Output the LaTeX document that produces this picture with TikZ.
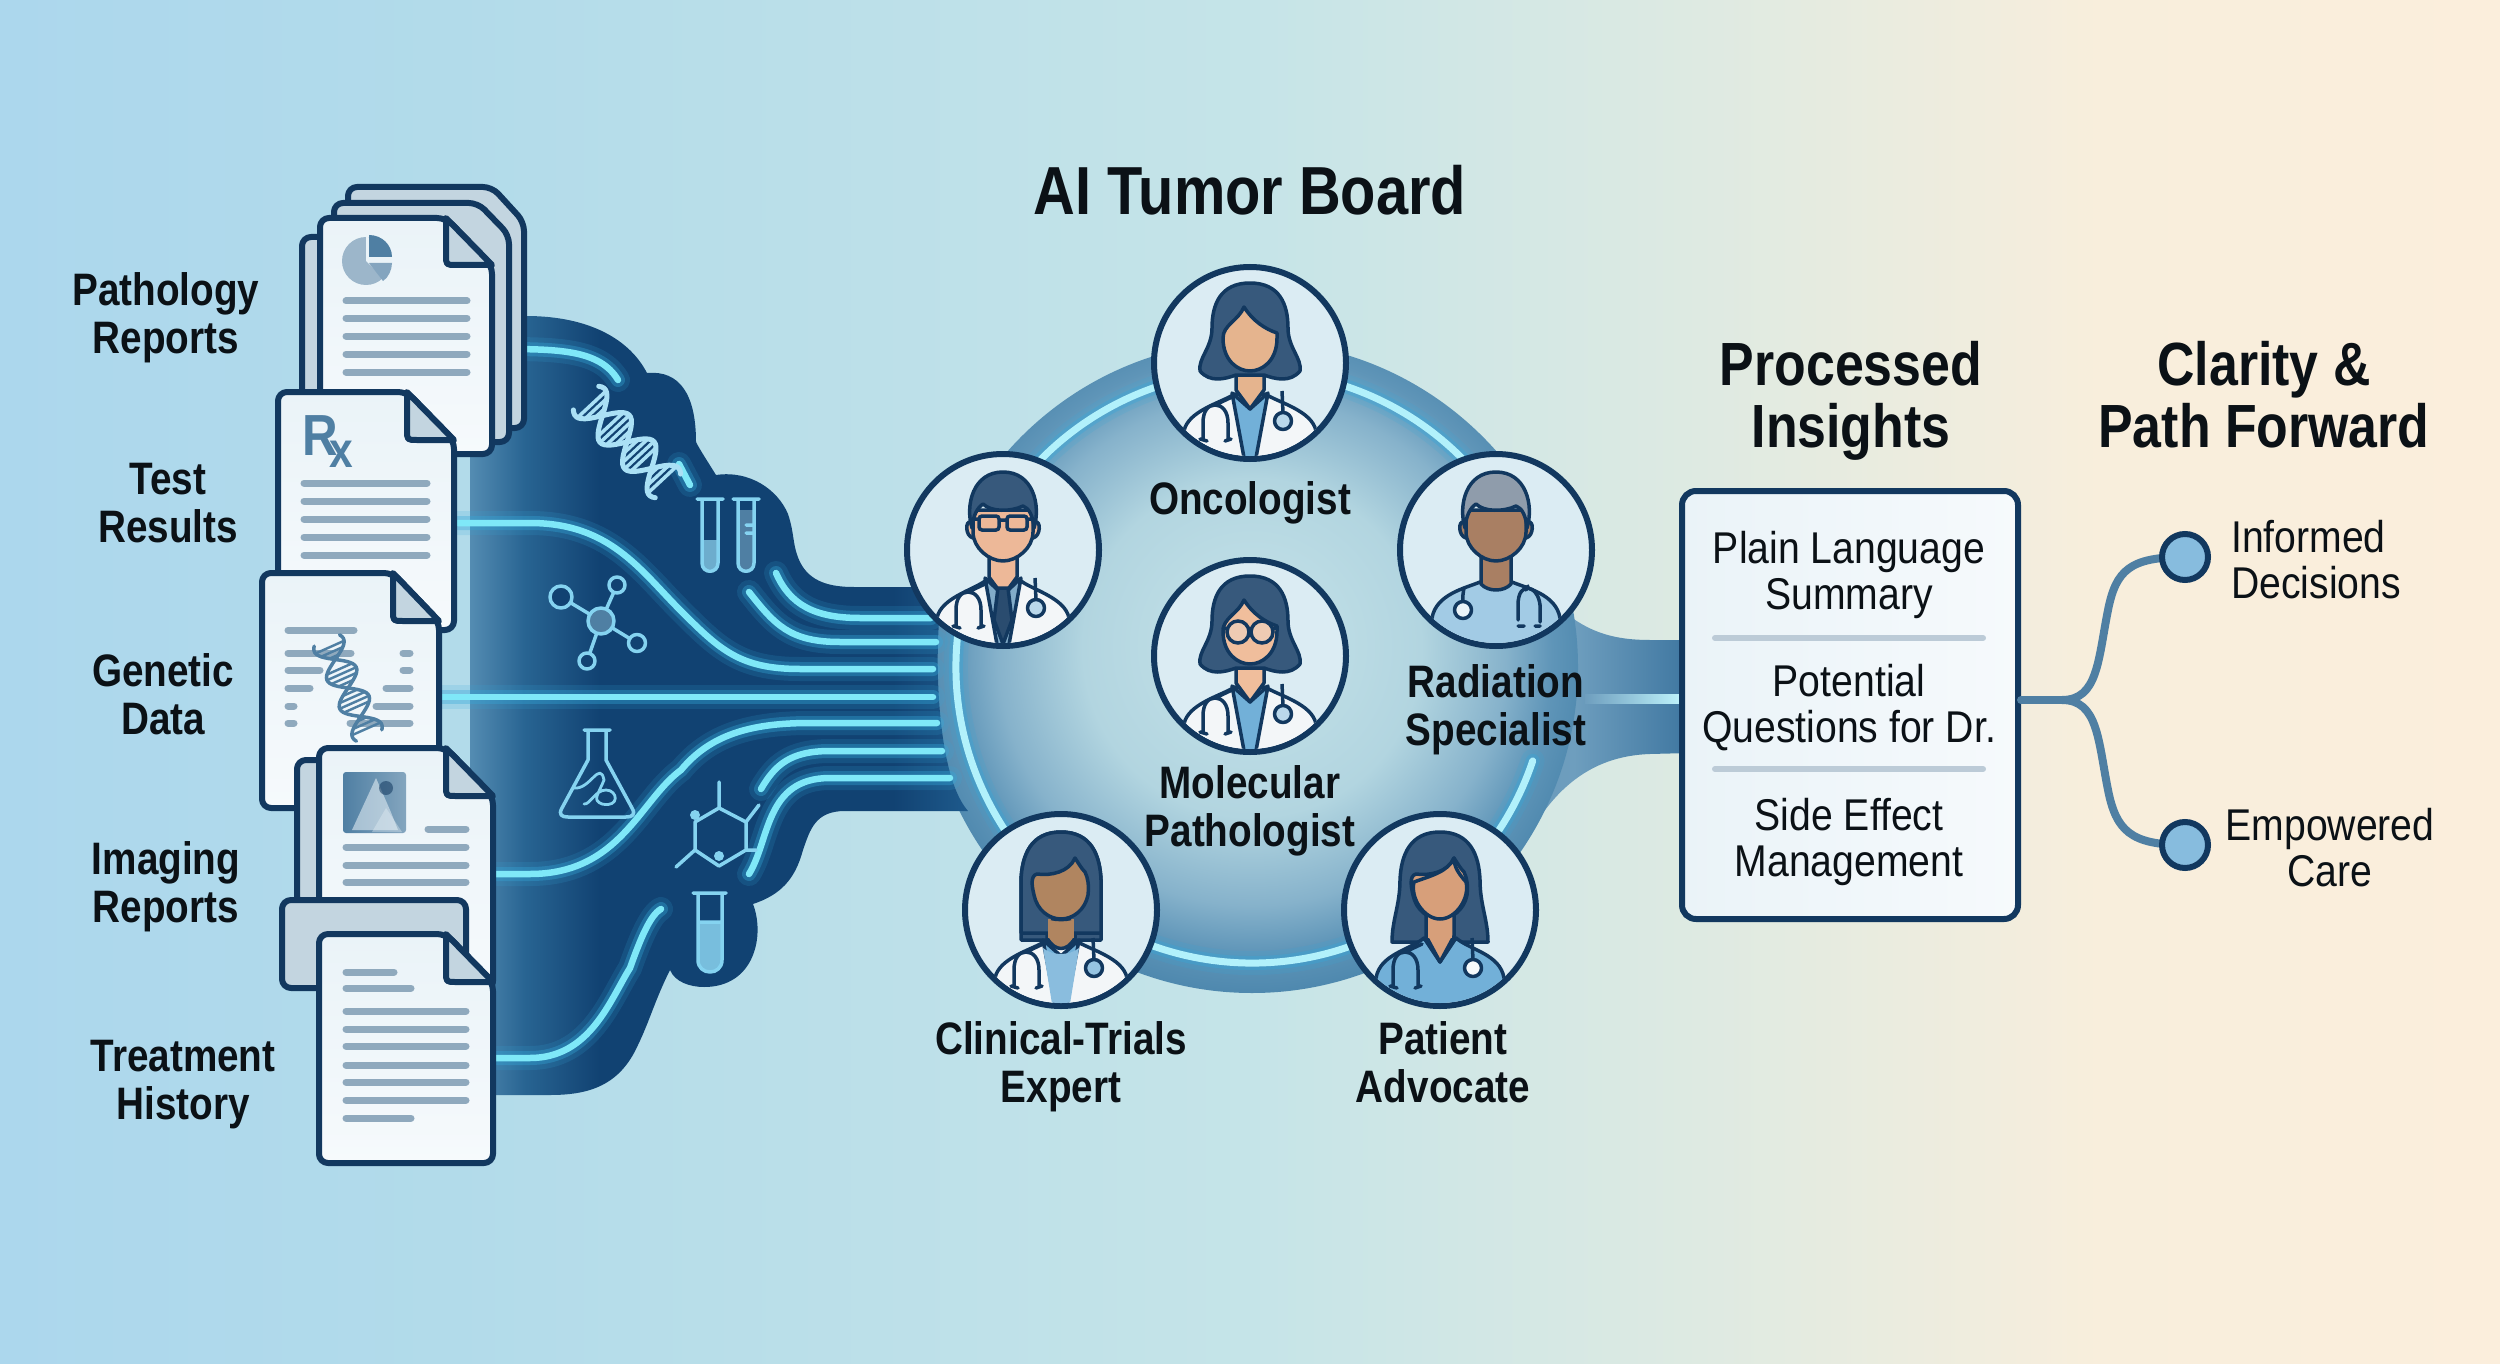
\documentclass[tikz,border=0pt]{standalone}
\usepackage{fontspec}
\setmainfont{Liberation Sans}[FakeStretch=0.88]
\newfontfamily\heavyfont{Liberation Sans Bold}[FakeStretch=0.85]
\usetikzlibrary{calc}
\definecolor{navy}{HTML}{12385F}
\definecolor{ink}{HTML}{0B1116}
\definecolor{pageA}{HTML}{EAF3F8}
\definecolor{pageB}{HTML}{F6FAFC}
\definecolor{sheet}{HTML}{C3D5E0}
\definecolor{rule}{HTML}{8FA9BD}
\definecolor{ico}{HTML}{4F7FA3}
\definecolor{cyanA}{HTML}{7FE8F8}
\definecolor{cyanB}{HTML}{35A8DA}
\definecolor{iconc}{HTML}{85D3F0}
\definecolor{hairc}{HTML}{37597C}
\definecolor{coat}{HTML}{F3F6F8}
\definecolor{scrub}{HTML}{72B0D8}
\definecolor{tailmid}{HTML}{6E9EBE}
\definecolor{faceback}{HTML}{DBECF3}
\definecolor{skinOnc}{HTML}{E5B48E}
\definecolor{skinSur}{HTML}{EDB898}
\definecolor{skinMol}{HTML}{F0BE9C}
\definecolor{skinRad}{HTML}{A97F63}
\definecolor{skinTri}{HTML}{B08560}
\definecolor{skinPat}{HTML}{D79F7A}
\definecolor{grayhair}{HTML}{8F9CAB}
\definecolor{bgA}{HTML}{ACD7ED}
\definecolor{bgB}{HTML}{B2DBEA}
\definecolor{bgC}{HTML}{C5E4E8}
\definecolor{bgD}{HTML}{DEEAE2}
\definecolor{bgE}{HTML}{F8EEDC}
\definecolor{bgF}{HTML}{FBEEDC}
\definecolor{blobA}{HTML}{548CB2}
\definecolor{blobB}{HTML}{286492}
\definecolor{blobC}{HTML}{114272}
\definecolor{blobD}{HTML}{1E5A8C}
\definecolor{tailA}{HTML}{5A8CAF}
\definecolor{tailB}{HTML}{6E9EBE}
\definecolor{tailC}{HTML}{3E76A0}
\definecolor{discA}{HTML}{C6E3E9}
\definecolor{discB}{HTML}{B2D5E0}
\definecolor{discC}{HTML}{86B2CB}
\definecolor{discD}{HTML}{5F95B8}
\definecolor{discE}{HTML}{4E88AE}
% Axial shadings span the shape between 25bp and 75bp; radial ones reach its edge at 25bp
\pgfdeclarehorizontalshading{bgshade}{100bp}{
 color(0bp)=(bgA); color(25bp)=(bgA); color(34bp)=(bgB); color(50bp)=(bgC); color(59bp)=(bgD); color(67bp)=(bgE); color(75bp)=(bgF); color(100bp)=(bgF)}
\pgfdeclarehorizontalshading{blobshade}{100bp}{
 color(0bp)=(blobA); color(25bp)=(blobA); color(30.5bp)=(blobB); color(38bp)=(blobC); color(67.5bp)=(blobC); color(75bp)=(blobD); color(100bp)=(blobD)}
\pgfdeclarehorizontalshading{tailshade}{100bp}{
 color(0bp)=(tailA); color(25bp)=(tailA); color(55bp)=(tailB); color(75bp)=(tailC); color(100bp)=(tailC)}
\pgfdeclareradialshading{discshade}{\pgfpoint{0bp}{2bp}}{
 color(0bp)=(discA); color(13bp)=(discB); color(19.5bp)=(discC); color(23bp)=(discD); color(26bp)=(discE); color(50bp)=(discE)}
\tikzset{
 label text/.style={font=\fontsize{45.5}{48}\heavyfont,text=ink,align=center,inner sep=0pt},
 title text/.style={font=\fontsize{61}{62}\heavyfont,text=ink,align=center,inner sep=0pt},
 main title/.style={font=\fontsize{68}{70}\heavyfont,text=ink,align=center,inner sep=0pt},
 plain text/.style={font=\fontsize{44.5}{46}\selectfont,text=ink,align=center,inner sep=0pt},
 docfill/.style={draw=navy,line width=6pt,rounded corners=9pt,top color=pageA,bottom color=pageB,line join=round},
 sheetfill/.style={draw=navy,line width=6pt,rounded corners=9pt,fill=sheet,line join=round},
 foldfill/.style={draw=navy,line width=6pt,fill=sheet,line join=round},
 textrule/.style={line width=7pt,draw=rule,line cap=round},
 glowA/.style={line width=24pt,draw=cyanB,opacity=.16,line cap=round},
 glowB/.style={line width=14pt,draw=cyanB,opacity=.35,line cap=round},
 glowC/.style={line width=6.5pt,draw=cyanA,line cap=round},
 iconline/.style={line width=3.5pt,draw=iconc,line cap=round,line join=round},
 outlineb/.style={draw=navy,line width=3.5pt,line join=round},
 portrait/.style={circle,draw=navy,line width=6pt,fill=faceback,minimum size=192pt,inner sep=0pt},
 endpoint/.style={circle,draw=navy,line width=6pt,fill=scrub!85!white,minimum size=46pt,inner sep=0pt},
 branch/.style={draw=ico,line width=8pt,line cap=round},
}
% One sheet with a folded corner: left, top, right, bottom, fold x, fold y
\newcommand{\docsheet}[6]{%
 \path[docfill] (#1,#2) -- (#5,#2) -- (#3,#6) -- (#3,#4) -- (#1,#4) -- cycle;
 \draw[foldfill] (#5,#2) -- ($(#5,#6)+(0,-10)$) .. controls (#5,#6) and (#5,#6) .. ($(#5,#6)+(10,0)$) -- (#3,#6) -- cycle;
}
\newcommand{\backsheet}[6]{%
 \path[sheetfill] (#1,#2) -- (#5,#2) -- (#3,#6) -- (#3,#4) -- (#1,#4) -- cycle;
}
\newcommand{\glowing}[1]{\draw[glowA] #1; \draw[glowB] #1; \draw[glowC] #1;}
% Double helix: centre x, y, angle, half length, amplitude, colour, width
\newcommand{\helix}[7]{%
 \begin{scope}[shift={(#1,#2)},rotate=#3]
  \draw[#6,line width=#7pt,line cap=round] plot[domain=-#4:#4,samples=50,smooth] (\x,{#5*sin(\x/#4*300)});
  \draw[#6,line width=#7pt,line cap=round] plot[domain=-#4:#4,samples=50,smooth] (\x,{-#5*sin(\x/#4*300)});
  \foreach \t in {-.86,-.76,-.66,-.2,-.3,-.4,-.1,.1,.2,.3,.4,.66,.76,.86}{
   \pgfmathsetmacro{\px}{\t*#4}
   \pgfmathsetmacro{\py}{#5*sin(\t*300)}
   \draw[#6,line width=#7*.7pt] (\px,\py) -- (\px,-\py);
  }
 \end{scope}}
% Bust pieces, drawn around the centre of a portrait
\newcommand{\clipface}{\clip (0,0) circle[radius=93pt];}
\newcommand{\neck}[1]{\path[fill=#1,outlineb] (-14,0) -- (-14,27) -- (0,46) -- (14,27) -- (14,0) -- cycle;}
\newcommand{\whitecoat}[1]{%
 \path[fill=coat,outlineb] (-15,31) .. controls (-30,40) and (-62,48) .. (-66,68) -- (-72,110) -- (72,110) -- (66,68) .. controls (62,48) and (30,40) .. (15,31) -- cycle;
 \path[fill=#1,outlineb] (-18,30) -- (0,46) -- (18,30) -- (5,100) -- (-5,100) -- cycle;}
\newcommand{\lefttube}{\draw[navy,line width=3.5pt,line cap=round,line join=round] (-50,76) -- (-43,78) (-25,78) -- (-19,76) (-47,76) -- (-47,60) .. controls (-47,48) and (-42,42) .. (-35,42) .. controls (-28,42) and (-22,48) .. (-22,60) -- (-22,76) (-35,42) -- (-18,34);}
\newcommand{\chestpiece}[1]{\draw[navy,line width=3.5pt] (32,28) -- (33,50); \path[fill=#1,outlineb] (33,58) circle[radius=8.5pt];}
\newcommand{\femaleshort}[1]{%
 \path[fill=hairc,outlineb] (0,-80) .. controls (-30,-80) and (-38,-58) .. (-38,-35) .. controls (-38,-15) and (-52,-5) .. (-50,8) .. controls (-40,20) and (-25,16) .. (-14,12) -- (14,12) .. controls (25,16) and (40,20) .. (50,8) .. controls (52,-5) and (38,-15) .. (38,-35) .. controls (38,-58) and (30,-80) .. (0,-80) -- cycle;
 \path[fill=#1,outlineb] (-6,-56) .. controls (-12,-42) and (-27,-38) .. (-27,-25) .. controls (-27,-2) and (-12,8) .. (0,8) .. controls (12,8) and (27,-2) .. (27,-25) -- (27,-30) .. controls (15,-34) and (3,-42) .. (-6,-56) -- cycle;}
\newcommand{\femalelong}[3]{%
 \path[fill=hairc,outlineb] (0,-78) .. controls (-30,-78) and (-39,-55) .. (-40,-30) .. controls (-40,-5) and (-#2,10) .. (-#2,#3) -- (#2,#3) .. controls (#2,10) and (40,-5) .. (40,-30) .. controls (39,-55) and (30,-78) .. (0,-78) -- cycle;
 \path[fill=#1,outlineb] (14,-52) .. controls (8,-38) and (-10,-34) .. (-24,-36) .. controls (-32,-34) and (-28,-20) .. (-27,-15) .. controls (-24,0) and (-12,9) .. (0,9) .. controls (12,9) and (24,0) .. (27,-15) .. controls (28,-25) and (27,-32) .. (24,-38) .. controls (20,-42) and (18,-46) .. (14,-52) -- cycle;}
\newcommand{\malehead}[2]{%
 \path[fill=#1,outlineb] (-32,-28) .. controls (-38,-30) and (-38,-14) .. (-30,-12) -- (30,-12) .. controls (38,-14) and (38,-30) .. (32,-28) -- cycle;
 \path[fill=#1,outlineb] (-30,-40) -- (-30,-18) .. controls (-30,-2) and (-14,11) .. (0,11) .. controls (14,11) and (30,-2) .. (30,-18) -- (30,-40) -- cycle;
 \path[fill=#2,outlineb] (-31,-22) .. controls (-38,-45) and (-30,-78) .. (0,-78) .. controls (30,-78) and (38,-45) .. (31,-22) .. controls (30,-34) and (26,-42) .. (20,-44) .. controls (8,-38) and (-12,-38) .. (-20,-46) .. controls (-26,-42) and (-30,-34) .. (-31,-22) -- cycle;}
\begin{document}
\begin{tikzpicture}[x=1pt,y=-1pt]
\useasboundingbox (0,0) rectangle (2500,1364);
\shade[shading=bgshade] (0,0) rectangle (2500,1364);

% Board disc and its outlet to the results panel
\shade[shading=tailshade] (1540,590) .. controls (1575,625) and (1600,640) .. (1650,640) -- (1690,640) -- (1690,753) -- (1650,754) .. controls (1590,756) and (1545,790) .. (1512,870) -- (1400,720) -- cycle;
\shade[shading=discshade] (1252,667) circle[radius=326pt];
\shade[left color=tailmid,right color=cyanA!50!white] (1585,694) rectangle (1682,703);

% Data stream from the records into the disc
\shade[shading=blobshade] (470,316) -- (526,316) .. controls (590,316) and (630,340) .. (647,373)
 .. controls (680,370) and (696,395) .. (696,442)
 .. controls (700,450) and (708,462) .. (716,475)
 .. controls (750,470) and (778,490) .. (788,514)
 .. controls (795,535) and (792,545) .. (800,562)
 .. controls (810,582) and (830,587) .. (854,587)
 -- (944,587)
 .. controls (934,620) and (932,770) .. (968,811)
 -- (845,811)
 .. controls (815,811) and (810,830) .. (803,850)
 .. controls (795,880) and (780,895) .. (753,904)
 .. controls (765,935) and (755,987) .. (704,987)
 .. controls (690,987) and (675,982) .. (670,970)
 .. controls (655,1000) and (650,1020) .. (638,1045)
 .. controls (620,1085) and (590,1095) .. (550,1095)
 -- (470,1095) -- cycle;

% Glowing channels
\glowing{(500,349) .. controls (560,349) and (600,350) .. (618,380)}
\glowing{(679,464) -- (690,485)}
\glowing{(458,523) -- (530,523) .. controls (610,523) and (640,570) .. (681,611) .. controls (720,650) and (740,669) .. (800,669) -- (933,669)}
\glowing{(776,573) .. controls (790,605) and (815,618) .. (860,618) -- (931,618)}
\glowing{(749,592) .. controls (775,625) and (790,642) .. (840,642) -- (936,642)}
\glowing{(439,697) -- (933,697)}
\glowing{(493,874) -- (530,874) .. controls (620,874) and (640,800) .. (681,770) .. controls (710,735) and (750,723) .. (810,723) -- (937,723)}
\glowing{(761,789) .. controls (775,765) and (790,751) .. (830,751) -- (942,751)}
\glowing{(749,874) .. controls (770,840) and (765,778) .. (830,778) -- (950,778)}
\glowing{(495,1058) -- (530,1058) .. controls (590,1058) and (610,1000) .. (630,968) .. controls (640,940) and (650,915) .. (661,909)}

% Ring inside the disc
\draw[glowA] ([shift={(25:296pt)}]1252,667) arc[start angle=25,end angle=341.5,radius=296pt];
\draw[glowB] ([shift={(25:296pt)}]1252,667) arc[start angle=25,end angle=341.5,radius=296pt];
\draw[line width=7pt,draw=cyanA!60!white,line cap=round] ([shift={(25:296pt)}]1252,667) arc[start angle=25,end angle=341.5,radius=296pt];

% Icons floating in the stream
\helix{627}{442}{-47}{60}{20}{iconc!70!white}{5}
\begin{scope}
 \path[fill=iconc!55!ico] (702,540) -- (718,540) -- (718,563) .. controls (718,572) and (702,572) .. (702,563) -- cycle;
 \draw[iconline] (697,499) -- (723,499) (702,499) -- (702,563) .. controls (702,574) and (718,574) .. (718,563) -- (718,499);
 \path[fill=ico] (738,510) -- (754,510) -- (754,563) .. controls (754,572) and (738,572) .. (738,563) -- cycle;
 \draw[iconline] (733,499) -- (759,499) (738,499) -- (738,563) .. controls (738,574) and (754,574) .. (754,563) -- (754,499) (746,525) -- (754,525) (746,533) -- (754,533);
\end{scope}
\begin{scope}
 \draw[iconline] (601,621) -- (561,597) (601,621) -- (617,585) (601,621) -- (637,643) (601,621) -- (587,661);
 \path[fill=ico,iconline] (601,621) circle[radius=13pt];
 \path[fill=blobC,iconline] (561,597) circle[radius=11pt] (617,585) circle[radius=8pt] (637,643) circle[radius=8.5pt] (587,661) circle[radius=8pt];
\end{scope}
\begin{scope}
 \draw[iconline] (584,730) -- (610,730) (588,730) -- (588,760) -- (562,808) .. controls (558,815) and (562,817) .. (568,817) -- (626,817) .. controls (632,817) and (636,815) .. (632,808) -- (606,760) -- (606,730);
 \draw[iconline,line width=2.8pt] (574,788) .. controls (590,790) and (600,760) .. (604,780) .. controls (598,795) and (592,800) .. (602,804) .. controls (620,808) and (618,790) .. (606,790) .. controls (595,790) and (590,805) .. (584,804);
\end{scope}
\begin{scope}
 \draw[iconline] (719,808) -- (746,822) -- (746,850) -- (719,866) -- (695,850) -- (695,822) -- cycle;
 \draw[iconline] (719,808) -- (719,782) (746,822) -- (759,805) (746,850) -- (756,850) (695,850) -- (676,867);
 \path[fill=iconc] (695,815) circle[radius=5pt] (719,856) circle[radius=5pt];
\end{scope}
\begin{scope}
 \path[fill=iconc!75!ico] (698,922) -- (722,922) -- (722,960) .. controls (722,974) and (698,974) .. (698,960) -- cycle;
 \draw[iconline] (693,893) -- (726,893) (698,893) -- (698,960) .. controls (698,976) and (722,976) .. (722,960) -- (722,893) (698,922) -- (722,922);
\end{scope}

% Record stacks
\path[sheetfill] (302,237) rectangle (340,420);
\backsheet{348}{187}{524}{428}{492}{222}
\backsheet{334}{203}{509}{442}{478}{235}
\docsheet{320}{218}{492}{454}{446}{265}
\foreach \yy in {301,318,336,354,372}{\draw[textrule] (346,\yy) -- (467,\yy);}
\path[fill=ico!55!white!85!rule] (366,261) circle[radius=24pt];
\path[fill=pageA] (366,261) -- (366,237) arc[start angle=90,end angle=-40,radius=26pt] -- cycle;
\path[fill=ico] (369,257) -- (369,235) .. controls (382,235) and (392,245) .. (392,257) -- cycle;
\path[fill=ico!70!white] (369,263) -- (392,263) .. controls (392,270) and (388,278) .. (383,281) -- cycle;

\docsheet{278}{392}{454}{630}{407}{440}
\foreach \yy in {483,501,519,537,555}{\draw[textrule] (304,\yy) -- (427,\yy);}
\node[text=ico,font=\fontsize{58}{58}\heavyfont,inner sep=0pt] (rxmark) at (328,442) {R\kern-9pt\raisebox{-12pt}{\fontsize{50}{50}\selectfont x}};

\docsheet{262}{573}{439}{808}{393}{621}
\draw[textrule] (288,630) -- (354,630) (288,653) -- (351,653) (403,653) -- (410,653) (288,670) -- (320,670) (403,670) -- (410,670)
 (288,688) -- (310,688) (386,688) -- (410,688) (288,706) -- (294,706) (376,706) -- (410,706) (288,723) -- (294,723) (350,723) -- (410,723);
\helix{348}{688}{-66}{52}{16}{ico}{3.5}

\path[sheetfill] (297,760) rectangle (350,905);
\docsheet{319}{748}{493}{990}{446}{796}
\shade[left color=ico,right color=ico!70!white,rounded corners=3pt] (343,772) rectangle (406,833);
\path[fill=pageA,opacity=.55] (352,830) -- (376,778) -- (390,810) -- (398,830) -- cycle;
\path[fill=pageA,opacity=.35] (372,832) -- (386,808) -- (402,832) -- cycle;
\path[fill=navy,opacity=.55] (386,788) circle[radius=7pt];
\draw[textrule] (428,829) -- (466,829);
\foreach \yy in {847,865,882}{\draw[textrule] (346,\yy) -- (466,\yy);}

\path[sheetfill] (282,900) rectangle (466,988);

\docsheet{319}{934}{493}{1163}{446}{982}
\draw[textrule] (346,972) -- (394,972) (346,988) -- (411,988) (346,1118) -- (411,1118);
\foreach \yy in {1011,1029,1046,1065,1082,1100}{\draw[textrule] (346,\yy) -- (466,\yy);}

% Board members
\node[portrait] (onc) at (1250,363) {};
\begin{scope}[shift={(onc.center)}]\clipface\whitecoat{scrub}\neck{skinOnc}\femaleshort{skinOnc}\lefttube\chestpiece{pageA!60!scrub}\end{scope}
\node[portrait] (sur) at (1003,550) {};
\begin{scope}[shift={(sur.center)}]\clipface
 \path[fill=coat,outlineb] (-18,31) .. controls (-30,40) and (-62,48) .. (-66,68) -- (-72,110) -- (72,110) -- (66,68) .. controls (62,48) and (30,40) .. (18,31) -- cycle;
 \path[fill=scrub!45!rule,outlineb] (-18,28) -- (0,45) -- (18,28) -- (5,100) -- (-5,100) -- cycle;
 \neck{skinSur}
 \path[fill=navy!90!white,outlineb] (-5,38) -- (5,38) -- (9,70) -- (0,94) -- (-9,70) -- cycle;
 \malehead{skinSur}{hairc}
 \draw[navy,line width=3.5pt,rounded corners=3pt] (-24,-34) rectangle (-4,-20) (4,-34) rectangle (24,-20) (-4,-30) -- (4,-30) (-30,-31) -- (-24,-31) (24,-31) -- (30,-31);
 \lefttube\chestpiece{pageA!60!scrub}
\end{scope}
\node[portrait] (rad) at (1496,550) {};
\begin{scope}[shift={(rad.center)}]\clipface
 \path[fill=scrub!60!pageA,outlineb] (-16,32) .. controls (-30,38) and (-60,44) .. (-64,68) -- (-70,110) -- (70,110) -- (64,68) .. controls (60,44) and (30,38) .. (16,32) -- cycle;
 \path[fill=skinRad,outlineb] (-15,0) -- (-15,34) .. controls (-8,42) and (8,42) .. (15,34) -- (15,0) -- cycle;
 \malehead{skinRad}{grayhair}
 \draw[navy,line width=3.5pt,line cap=round] (-32,38) .. controls (-34,48) and (-33,52) .. (-33,58);
 \path[fill=pageA,outlineb] (-33,60) circle[radius=8.5pt];
 \draw[navy,line width=3.5pt,line cap=round] (22,70) -- (22,55) .. controls (22,30) and (42,35) .. (44,55) -- (44,72) (32,36) -- (30,40) (22,76) -- (28,76) (44,76) -- (39,76);
\end{scope}
\node[portrait] (mol) at (1250,656) {};
\begin{scope}[shift={(mol.center)}]\clipface\whitecoat{scrub}\neck{skinMol}\femaleshort{skinMol}
 \draw[navy,line width=3.5pt,fill=pageA,fill opacity=.25] (-12,-24) circle[radius=11pt] (12,-24) circle[radius=11pt] (-1,-25) -- (1,-25) (-23,-27) -- (-28,-29) (23,-27) -- (28,-29);
 \lefttube\chestpiece{pageA!60!scrub}
\end{scope}
\node[portrait] (tri) at (1061,910) {};
\begin{scope}[shift={(tri.center)}]\clipface
 \femalelong{skinTri}{40}{30}
 \whitecoat{scrub}
 \path[fill=scrub!80!pageA,draw=none] (-18,38) .. controls (-8,46) and (8,46) .. (18,38) -- (8,100) -- (-8,100) -- cycle;
 \path[fill=skinTri,outlineb] (-14,5) -- (-14,28) .. controls (-6,42) and (6,42) .. (14,28) -- (14,5) -- cycle;
 \femalelong{skinTri}{40}{23}
 \path[fill=skinTri] (-13,9) rectangle (13,28);
 \draw[navy,line width=3.5pt] (-10,8.5) .. controls (-4,10) and (4,10) .. (10,8.5);
 \lefttube\chestpiece{scrub!70!pageA}
\end{scope}
\node[portrait] (pat) at (1440,910) {};
\begin{scope}[shift={(pat.center)}]\clipface
 \femalelong{skinPat}{48}{32}
 \path[fill=scrub,outlineb] (-16,28) .. controls (-30,40) and (-60,44) .. (-64,68) -- (-70,110) -- (70,110) -- (64,68) .. controls (60,44) and (30,40) .. (16,28) -- (0,52) -- cycle;
 \path[fill=skinPat,outlineb] (-14,5) -- (-14,26) -- (0,52) -- (14,26) -- (14,5) -- cycle;
 \path[fill=skinPat] (-12,9) rectangle (12,28);
 \path[fill=skinPat,outlineb] (-26,-28) .. controls (-30,-12) and (-16,9) .. (0,9) .. controls (16,9) and (30,-12) .. (26,-28) .. controls (20,-35) and (14,-42) .. (14,-52) .. controls (8,-38) and (-10,-34) .. (-26,-28) -- cycle;
 \lefttube\chestpiece{pageB}
\end{scope}

% Results panel
\node[draw=navy,line width=6pt,rounded corners=14pt,left color=pageA,right color=pageB,minimum width=336pt,minimum height=428pt,inner sep=0pt] (panel) at (1850,705) {};
\draw[line width=6pt,draw=rule!60!white,line cap=round] (1715,638) -- (1983,638) (1715,769) -- (1983,769);

% Outcomes and the branch leading to them
\coordinate (fork) at (2062,700);
\coordinate (dotAc) at (2185,557);
\coordinate (dotBc) at (2185,845);
\draw[branch] (panel.east |- fork) -- (fork);
\draw[branch] (fork) .. controls (2098,700) and (2098,660) .. (2108,610) .. controls (2116,570) and (2130,557) .. (dotAc);
\draw[branch] (fork) .. controls (2098,700) and (2098,740) .. (2108,790) .. controls (2116,830) and (2130,845) .. (dotBc);
\node[endpoint] (dotA) at (dotAc) {};
\node[endpoint] (dotB) at (dotBc) {};

% Texts
\node[main title] (titleA) at (1250,190) {AI Tumor Board};
\node[title text] (titleB) at (1851,401) {Processed\\Insights};
\node[title text] (titleC) at (2264,395) {Clarity \&\\Path Forward};
\node[label text] (pathrep) at (166,318) {Pathology\\Reports};
\node[label text] (testres) at (168,503) {Test\\Results};
\node[label text] (gendat) at (163,694) {Genetic\\Data};
\node[label text] (imgrep) at (166,887) {Imaging\\Reports};
\node[label text] (trehis) at (183,1085) {Treatment\\History};
\node[label text] (lblonc) at (1250,503) {Oncologist};
\node[label text] (lblrad) at (1496,710) {Radiation\\Specialist};
\node[label text] (lblmol) at (1250,811) {Molecular\\Pathologist};
\node[label text] (lbltri) at (1061,1067) {Clinical-Trials\\Expert};
\node[label text] (lblpat) at (1443,1062) {Patient\\Advocate};
\node[plain text] (insA) at (1849,575) {Plain Language\\Summary};
\node[plain text] (insB) at (1849,708) {Potential\\Questions for Dr.};
\node[plain text] (insC) at (1849,842) {Side Effect\\Management};
\node[plain text,align=left,anchor=west] (outA) at (2231,560) {Informed\\Decisions};
\node[plain text] (outB) at (2330,848) {Empowered\\Care};
\end{tikzpicture}
\end{document}
